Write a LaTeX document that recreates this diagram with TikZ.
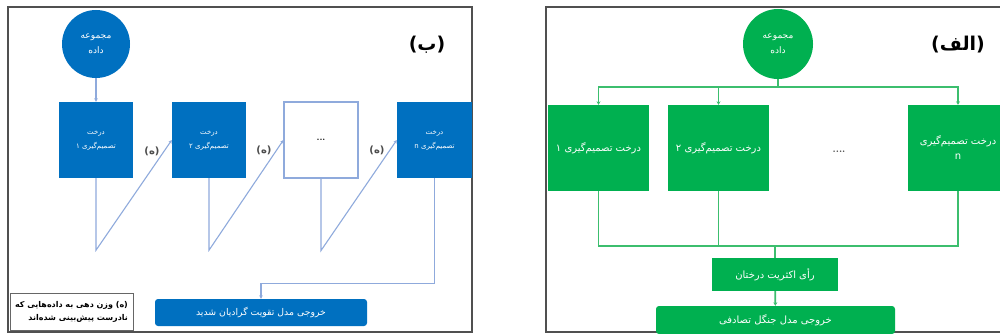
\documentclass[tikz,border=0pt]{standalone}
\usepackage{fontspec}
\usetikzlibrary{arrows.meta}
\TeXXeTstate=1
\newfontfamily\farsi[Script=Arabic]{DejaVu Sans}
\newcommand{\fatext}[1]{\beginR #1\endR}
\definecolor{boostblue}{RGB}{0,112,192}
\definecolor{boostline}{RGB}{143,170,220}
\definecolor{forestgreen}{RGB}{0,176,80}
\definecolor{forestline}{RGB}{60,190,110}
\definecolor{framegray}{RGB}{80,80,80}

\begin{document}
\begin{tikzpicture}[x=1pt,y=-1pt,
  every node/.style={font=\farsi\fontsize{7}{14}\selectfont, inner sep=1pt},
  bfill/.style={fill=boostblue, text=white, align=center},
  gfill/.style={fill=forestgreen, text=white, align=center, font=\farsi\fontsize{10}{15}\selectfont},
  tree/.style={minimum width=74pt, minimum height=76pt},
  gtree/.style={minimum width=101pt, minimum height=86pt},
  bline/.style={draw=boostline, line width=1.1pt, -{Stealth[length=3.5pt,width=3.5pt]}},
  gline/.style={draw=forestline, line width=1.8pt},
  garrow/.style={gline, -{Stealth[length=3.5pt,width=4pt]}},
  panel/.style={draw=framegray, line width=1.5pt},
  weight/.style={font=\farsi\bfseries\fontsize{10}{11}\selectfont, text=black!70},
  heading/.style={font=\farsi\bfseries\fontsize{19}{20}\selectfont}]
\useasboundingbox (0,0) rectangle (1000,334);
\fill[white] (0,0) rectangle (1000,334);

% (b) gradient boosting
\draw[panel] (8,7) rectangle (472,332);
\node[heading] (btitle) at (427,45) {\fatext{(ب)}};
\node[bfill, circle, minimum size=68pt, font=\farsi\fontsize{9}{15}\selectfont] (bdata) at (96,44) {\fatext{مجموعه}\\\fatext{داده}};
\node[bfill, tree] (bt1) at (96,140) {\fatext{درخت}\\\fatext{تصمیم‌گیری ۱}};
\node[bfill, tree] (bt2) at (209,140) {\fatext{درخت}\\\fatext{تصمیم‌گیری ۲}};
\node[tree, draw=boostline, line width=1.1pt, fill=white, font=\bfseries\fontsize{9}{10}\selectfont] (bdots) at (321,140) {...};
\node[bfill, tree, minimum width=75pt] (btn) at (434.5,140) {\fatext{درخت}\\\fatext{تصمیم‌گیری n}};
\node[bfill, rounded corners=3pt, minimum width=212pt, minimum height=27pt, font=\farsi\fontsize{9.3}{10}\selectfont] (bout) at (261,312.5) {\fatext{خروجی مدل تقویت گرادیان شدید}};
\node[draw=black!60, line width=0.6pt, fill=white, align=right, minimum width=123pt, minimum height=37pt,
  font=\farsi\bfseries\fontsize{8}{13}\selectfont] (blegend) at (71.5,311.5)
  {\fatext{(ه) وزن دهی به داده‌هایی که}\\\fatext{نادرست پیش‌بینی شده‌اند}};
\node[weight] (bw1) at (152,151) {\fatext{(ه)}};
\node[weight] (bw2) at (264,150) {\fatext{(ه)}};
\node[weight] (bw3) at (377,150) {\fatext{(ه)}};
\draw[bline] (bdata) -- (bt1);
\draw[bline] (bt1.south) -- ++(0,72) -- (bt2.west);
\draw[bline] (bt2.south) -- ++(0,72) -- (bdots.west);
\draw[bline] (bdots.south) -- ++(0,72) -- (btn.west);
\draw[bline] (btn.south) -- ++(0,105) -| (bout.north);

% (a) random forest
\draw[panel] (546,7) rectangle (1003,332);
\node[heading] (gtitle) at (958,45) {\fatext{(الف)}};
\node[gfill, circle, minimum size=70pt, font=\farsi\fontsize{9}{15}\selectfont] (gdata) at (778,44) {\fatext{مجموعه}\\\fatext{داده}};
\node[gfill, gtree] (gt1) at (598.5,148) {\fatext{درخت تصمیم‌گیری ۱}};
\node[gfill, gtree] (gt2) at (718.5,148) {\fatext{درخت تصمیم‌گیری ۲}};
\node[font=\bfseries\fontsize{10}{11}\selectfont, text=black!70] (gdots) at (839,152) {....};
\node[gfill, gtree, minimum width=100pt] (gtn) at (958,148) {\fatext{درخت تصمیم‌گیری}\\n};
\node[gfill, minimum width=126pt, minimum height=33pt] (gvote) at (775,274.5) {\fatext{رأی اکثریت درختان}};
\node[gfill, rounded corners=3pt, minimum width=239pt, minimum height=28pt] (gout) at (775.5,320) {\fatext{خروجی مدل جنگل تصادفی}};
\coordinate (gsplit) at (778,87);
\coordinate (gjoin) at (775,246);
\draw[gline] (gdata) -- (gsplit);
\draw[garrow] (gsplit) -| (gt1);
\draw[garrow] (gsplit) -| (gt2);
\draw[garrow] (gsplit) -| (gtn);
\draw[gline] (gt1) |- (gjoin);
\draw[gline] (gt2) |- (gjoin);
\draw[gline] (gtn) |- (gjoin);
\draw[gline] (gjoin) -- (gvote);
\draw[garrow] (gvote) -- (gout);
\end{tikzpicture}
\end{document}
